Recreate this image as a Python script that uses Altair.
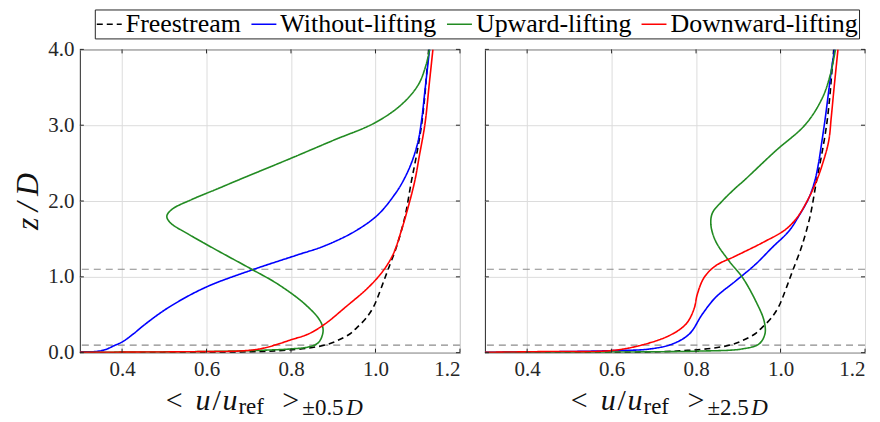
import altair as alt
import pandas as pd

series_names = ["Freestream", "Without-lifting", "Upward-lifting", "Downward-lifting"]
series_colors = ["#000000", "#0000ff", "#228b22", "#ff0000"]
series_dash = [[6, 4], [1, 0], [1, 0], [1, 0]]

# Freestream profile (same in both panels)
fs_z = [0.0, 0.01, 0.03, 0.06, 0.1, 0.16, 0.25, 0.33, 0.45, 0.6, 0.8, 0.95, 1.1, 1.4, 1.8, 2.26, 2.6, 3.0, 3.4, 3.67, 4.0]
fs_u = [0.30, 0.70, 0.78, 0.84, 0.88, 0.91, 0.94, 0.956, 0.977, 0.995, 1.010, 1.020, 1.03, 1.05, 1.07, 1.085, 1.097, 1.109, 1.117, 1.121, 1.126]

# Left panel (+-0.5D)
l_wo_z = [0.012, 0.013, 0.025, 0.05, 0.09, 0.14, 0.24, 0.377, 0.596, 0.86, 1.09, 1.28, 1.41, 1.6, 1.82, 2.09, 2.26, 2.5, 2.79, 3.1, 3.45, 3.75, 4.0]
l_wo_u = [0.30, 0.33, 0.35, 0.365, 0.38, 0.40, 0.425, 0.455, 0.51, 0.597, 0.707, 0.81, 0.88, 0.951, 1.006, 1.046, 1.065, 1.085, 1.101, 1.11, 1.117, 1.123, 1.128]

l_up_z = [0.005, 0.015, 0.03, 0.05, 0.08, 0.14, 0.29, 0.42, 0.64, 0.9, 1.1, 1.34, 1.56, 1.715, 1.8, 1.89, 2.02, 2.175, 2.26, 2.55, 2.8, 3.03, 3.27, 3.53, 3.8, 4.0]
l_up_u = [0.30, 0.60, 0.72, 0.80, 0.845, 0.866, 0.876, 0.869, 0.833, 0.77, 0.707, 0.628, 0.558, 0.514, 0.506, 0.518, 0.565, 0.632, 0.668, 0.794, 0.90, 0.998, 1.061, 1.101, 1.12, 1.128]

l_dn_z = [0.005, 0.012, 0.026, 0.06, 0.115, 0.17, 0.246, 0.377, 0.596, 0.86, 1.079, 1.3, 1.605, 1.912, 2.263, 2.6, 3.01, 3.58, 4.0]
l_dn_u = [0.30, 0.55, 0.69, 0.735, 0.77, 0.80, 0.841, 0.88, 0.928, 0.983, 1.018, 1.042, 1.061, 1.077, 1.093, 1.104, 1.117, 1.128, 1.136]

# Right panel (+-2.5D)
r_wo_z = [0.005, 0.015, 0.026, 0.048, 0.115, 0.246, 0.509, 0.728, 0.947, 1.167, 1.386, 1.605, 1.8, 2.04, 2.263, 2.5, 2.79, 3.1, 3.45, 3.75, 4.0]
r_wo_u = [0.30, 0.50, 0.595, 0.689, 0.744, 0.784, 0.815, 0.846, 0.894, 0.941, 0.98, 1.02, 1.043, 1.067, 1.081, 1.09, 1.098, 1.106, 1.114, 1.121, 1.128]

r_up_z = [0.003, 0.008, 0.02, 0.05, 0.115, 0.246, 0.42, 0.684, 0.991, 1.21, 1.474, 1.693, 1.846, 2.0, 2.175, 2.263, 2.66, 3.01, 3.36, 3.67, 4.0]
r_up_u = [0.30, 0.60, 0.80, 0.91, 0.949, 0.963, 0.961, 0.941, 0.91, 0.878, 0.846, 0.835, 0.839, 0.862, 0.894, 0.912, 0.988, 1.059, 1.099, 1.118, 1.13]

r_dn_z = [0.005, 0.015, 0.026, 0.092, 0.224, 0.377, 0.575, 0.772, 0.991, 1.145, 1.276, 1.45, 1.625, 1.78, 2.0, 2.263, 2.5, 2.79, 3.1, 3.45, 4.0]
r_dn_u = [0.30, 0.45, 0.595, 0.665, 0.736, 0.776, 0.795, 0.803, 0.819, 0.846, 0.894, 0.957, 1.012, 1.039, 1.063, 1.085, 1.1, 1.114, 1.12, 1.126, 1.136]

rotor_lines_z = [0.1, 1.1]
x_ticks = [0.4, 0.6, 0.8, 1.0, 1.2]
y_ticks = [0.0, 1.0, 2.0, 3.0, 4.0]
x_domain = [0.3, 1.2]
y_domain = [0.0, 4.0]

FONT = "Liberation Serif, DejaVu Serif, serif"
W, H = 381, 304


def make_df(curves):
    rows = []
    for name, (zs, us) in zip(series_names, curves):
        for i, (z, u) in enumerate(zip(zs, us)):
            rows.append({"series": name, "z": z, "u": u, "idx": i})
    return pd.DataFrame(rows)


def panel(curves, show_y, sub_text, show_legend):
    df = make_df(curves)
    xs = alt.Scale(domain=x_domain, nice=False, zero=False)
    ys = alt.Scale(domain=y_domain, nice=False, zero=False)
    xax = alt.Axis(values=x_ticks, format=".1f", title=None, grid=True)
    if show_y:
        yax = alt.Axis(values=y_ticks, format=".1f", title="z\u2009/\u2009D", grid=True,
                       titleFont=FONT, titleFontSize=32, titleFontStyle="italic",
                       titleFontWeight="normal", titleColor="#111111", titlePadding=3)
    else:
        yax = alt.Axis(values=y_ticks, labels=False, title=None, grid=True)

    if show_legend:
        leg = alt.Legend(title=None, orient="none", legendX=15, legendY=-40,
                         direction="horizontal", columns=4, symbolType="stroke",
                         symbolSize=625, symbolStrokeWidth=1.6, labelFont=FONT,
                         labelFontSize=26, labelColor="#000000", strokeColor="#262626",
                         fillColor="#ffffff", padding=1, columnPadding=6, labelOffset=3,
                         labelLimit=400)
    else:
        leg = None

    hl = pd.DataFrame({"z": rotor_lines_z})

    # inward tick marks
    tx = pd.DataFrame([{"u": t, "z0": y_domain[0], "z1": y_domain[0] + 0.053} for t in x_ticks] +
                      [{"u": t, "z0": y_domain[1] - 0.053, "z1": y_domain[1]} for t in x_ticks])
    ty = pd.DataFrame([{"z": t, "u0": x_domain[0], "u1": x_domain[0] + 0.0095} for t in y_ticks] +
                      [{"z": t, "u0": x_domain[1] - 0.0095, "u1": x_domain[1]} for t in y_ticks])

    hlines = alt.Chart(hl).mark_rule(color="#8c8c8c", strokeDash=[7, 5], strokeWidth=1.2).encode(
        y=alt.Y("z:Q", scale=ys, axis=yax))

    lines = alt.Chart(df).mark_line(strokeWidth=1.6, clip=True, interpolate="catmull-rom").encode(
        x=alt.X("u:Q", scale=xs, axis=xax),
        y=alt.Y("z:Q", scale=ys, axis=yax),
        color=alt.Color("series:N", scale=alt.Scale(domain=series_names, range=series_colors), legend=leg),
        strokeDash=alt.StrokeDash("series:N", scale=alt.Scale(domain=series_names, range=series_dash), legend=leg),
        order="idx:Q",
    )

    tick_x = alt.Chart(tx).mark_rule(color="#262626", strokeWidth=1).encode(
        x=alt.X("u:Q", scale=xs), y=alt.Y("z0:Q", scale=ys), y2="z1:Q")
    tick_y = alt.Chart(ty).mark_rule(color="#262626", strokeWidth=1).encode(
        y=alt.Y("z:Q", scale=ys), x=alt.X("u0:Q", scale=xs), x2="u1:Q")

    # x-axis title built from pieces (text, x offset, baseline y, size, style)
    pieces = [
        ("<", 86, 361, 30, "normal"),
        ("u", 116, 361, 30, "italic"),
        ("/", 133, 361, 30, "normal"),
        ("u", 143, 361, 30, "italic"),
        ("ref", 159, 365, 23, "normal"),
        (">", 203, 361, 30, "normal"),
        ("\u00b1" + sub_text, 223, 366, 23, "normal"),
        ("D", 267, 366, 23, "italic"),
    ]
    texts = []
    for t, px, py, fs, st in pieces:
        texts.append(alt.Chart(pd.DataFrame({"t": [t]})).mark_text(
            align="left", baseline="alphabetic", font=FONT, fontSize=fs, fontStyle=st,
            color="#111111").encode(text="t:N", x=alt.value(px), y=alt.value(py)))

    layer = alt.layer(hlines, lines, tick_x, tick_y, *texts).properties(width=W, height=H)
    return layer


left = panel([(fs_z, fs_u), (l_wo_z, l_wo_u), (l_up_z, l_up_u), (l_dn_z, l_dn_u)], True, "0.5", True)
right = panel([(fs_z, fs_u), (r_wo_z, r_wo_u), (r_up_z, r_up_u), (r_dn_z, r_dn_u)], False, "2.5", False)

chart = alt.hconcat(left, right, spacing=25, bounds="flush").resolve_legend(
    color="independent", strokeDash="independent"
).resolve_scale(color="independent", strokeDash="independent").properties(
    padding={"left": 3, "top": 0, "right": 5, "bottom": 0}
).configure_view(stroke="#262626", strokeWidth=1).configure_axis(
    domain=False, ticks=False, grid=True, gridColor="#dcdcdc", gridWidth=1,
    labelFont=FONT, labelFontSize=21, labelColor="#262626", labelPadding=6
)

chart.save("out.html", embed_options={"renderer": "svg", "actions": False})
